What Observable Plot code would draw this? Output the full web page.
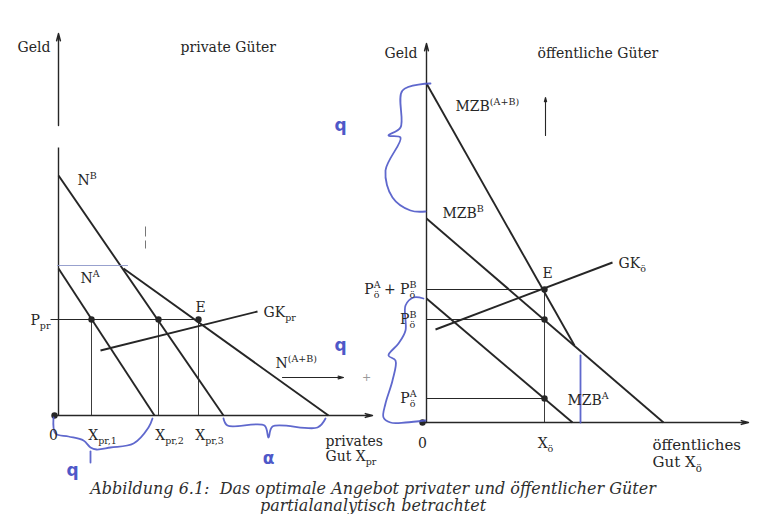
<!DOCTYPE html>
<html><head><meta charset="utf-8">
<script src="https://cdn.jsdelivr.net/npm/d3@7"></script>
<script src="https://cdn.jsdelivr.net/npm/@observablehq/plot@0.6"></script>
<style>
html,body{margin:0;padding:0;background:#fff;}
#fig{position:relative;width:766px;height:480px;}
#fig svg{position:absolute;left:0;top:0;overflow:visible;}
#caption{width:766px;box-sizing:border-box;padding-right:20px;font-family:"DejaVu Serif";font-style:italic;font-size:16px;line-height:17px;color:#2e2e2e;text-align:center;white-space:pre;}
</style></head><body>
<div id="fig"></div>
<div id="caption"></div>
<script>
// ---------- private goods (left panel) ----------
const demandPr = [
  {curve: "N^A",     x1: 0,   y1: 14.7, x2: 9.6,  y2: 0},
  {curve: "N^B",     x1: 0,   y1: 24.0, x2: 16.5, y2: 0},
  {curve: "N^(A+B)", x1: 6.5, y1: 14.7, x2: 27.0, y2: 0}
];
const supplyPr = [{curve: "GK_pr", x1: 4.2, y1: 6.5, x2: 19.9, y2: 10.4}];
const pricePr = 9.6;
const quantPr = [3.3, 10.0, 14.0];
const quantPrLabels = ["X_{pr,1}", "X_{pr,2}", "X_{pr,3}"];
const labelsPr = [
  {t: "Geld", x: -0.8, y: 36.8, a: "end"},
  {t: "private Güter", x: 12.2, y: 36.8, a: "start"},
  {t: "N^{B}", x: 1.9, y: 23.5, a: "start"},
  {t: "N^{A}", x: 2.2, y: 13.7, a: "start"},
  {t: "P_{pr}", x: -0.8, y: 9.5, a: "end"},
  {t: "GK_{pr}", x: 20.5, y: 10.3, a: "start"},
  {t: "N^{(A+B)}", x: 21.7, y: 5.2, a: "start"},
  {t: "0", x: -0.5, y: -2.0, a: "middle"},
  {t: "privates", x: 26.7, y: -2.6, a: "start"},
  {t: "Gut X_{pr}", x: 26.7, y: -4.1, a: "start"}
];
const shiftArrowPr = [{x1: 22.4, y1: 3.8, x2: 28.5, y2: 3.8}];
const printSpecks = [{x1: 8.7, y1: 18.9, x2: 8.7, y2: 17.9}, {x1: 8.7, y1: 17.5, x2: 8.7, y2: 16.7}];

// ---------- public goods (right panel) ----------
const mzb = [
  {curve: "MZB^A",     x1: 0, y1: 12.4, x2: 14.6, y2: 0},
  {curve: "MZB^B",     x1: 0, y1: 20.4, x2: 23.7, y2: 0},
  {curve: "MZB^(A+B)", x1: 0, y1: 33.9, x2: 14.8, y2: 7.7}
];
const supplyOe = [{curve: "GK_ö", x1: 0.9, y1: 9.3, x2: 18.6, y2: 16.0}];
const quantOe = 11.8;
const pricesOe = [
  {t: "P^{A}_{ö}", p: 2.4},
  {t: "P^{B}_{ö}", p: 10.3},
  {t: "P^{A}_{ö} + P^{B}_{ö}", p: 13.3}
];
const labelsOe = [
  {t: "Geld", x: -0.9, y: 36.9, a: "end"},
  {t: "öffentliche Güter", x: 11.1, y: 36.9, a: "start"},
  {t: "MZB^{(A+B)}", x: 2.9, y: 31.6, a: "start"},
  {t: "MZB^{B}", x: 1.6, y: 20.9, a: "start"},
  {t: "GK_{ö}", x: 19.2, y: 15.9, a: "start"},
  {t: "MZB^{A}", x: 14.1, y: 2.2, a: "start"},
  {t: "0", x: -0.4, y: -2.1, a: "middle"},
  {t: "X_{ö}", x: 11.9, y: -2.1, a: "middle"}
];
const axisTitleOe = [
  {t: "öffentliches", x: 22.6, y: -2.3},
  {t: "Gut X_{ö}", x: 22.6, y: -4.0}
];
const shiftArrowOe = [{x1: 11.9, y1: 28.7, x2: 11.9, y2: 32.5}];

// ---------- handwritten pen marks (blue) ----------
const penPr = [
  [[-0.5,-0.2],[-0.3,-1.8],[1.0,-2.1],[2.5,-2.5],[3.2,-3.2],[3.8,-3.4],[5.2,-3.2],[7.5,-2.8],[9.0,-1.2],[9.4,-0.3]],
  [[3.2,-3.6],[3.2,-4.7]],
  [[16.5,-0.3],[16.9,-1.0],[20.6,-1.0],[21.0,-2.2],[21.4,-1.1],[25.9,-1.2],[26.7,-0.3]]
];
const penPrFaint = [[[-0.1,15.0],[6.9,15.0]]];
const penPrLetters = [
  {t: "q", x: 1.4, y: -5.5}, {t: "α", x: 21.0, y: -4.3},
  {t: "q", x: 28.2, y: 29.0}, {t: "q", x: 28.2, y: 7.0}
];
const penOe = [
  [[0.4,33.9],[-2.4,33.2],[-2.6,29.5],[-3.8,28.7],[-2.6,28.5],[-4.1,25.2],[-3.4,22.5],[-1.6,21.2],[-0.1,21.1]],
  [[-0.3,12.4],[-1.3,12.5],[-2.1,11.7],[-2.1,9.2],[-2.8,7.9],[-3.8,6.7],[-3.1,6.2],[-3.4,4.2],[-4.1,1.9],[-4.3,0.5],[-3.6,0],[-2.1,0],[-0.1,0.2]],
  [[15.4,0],[15.4,6.7]]
];

// ---------- drawing ----------
const W = 766, H = 480;
const INK = "#262626", BLUE = "#4e58c8";
function panel(xdom, ydom, marks) {
  return Plot.plot({
    width: W, height: H, margin: 0,
    x: {domain: xdom, axis: null}, y: {domain: ydom, axis: null},
    style: {background: "transparent", overflow: "visible", fontFamily: "DejaVu Serif", fontSize: "14px", color: INK},
    marks
  });
}
const seg = {x1: "x1", y1: "y1", x2: "x2", y2: "y2"};
function labelMarks(labels, size) {
  return ["start", "middle", "end"].map(a =>
    Plot.text(labels.filter(d => d.a === a), {x: "x", y: "y", text: "t", textAnchor: a, fill: INK, fontSize: size}));
}
function penMarks(strokes, color, width) {
  return strokes.map(s => Plot.line(s, {x: d => d[0], y: d => d[1], curve: "catmull-rom", stroke: color, strokeWidth: width, strokeOpacity: 0.9}));
}

const left = panel([-5.8, 70.8], [-6.5, 41.5], [
  // axes (the vertical axis has a small break in the print)
  Plot.link([{x1: 0, y1: 0, x2: 0, y2: 26.8}], {...seg, stroke: INK, strokeWidth: 1.4}),
  Plot.arrow([{x1: 0, y1: 29.0, x2: 0, y2: 38.2}, {x1: -0.4, y1: 0, x2: 31.4, y2: 0}],
    {...seg, stroke: INK, strokeWidth: 1.4, headLength: 8, headAngle: 30}),
  Plot.link(printSpecks, {...seg, stroke: "#777", strokeWidth: 1}),
  // guides
  Plot.link([{x: -0.8}], {x1: "x", x2: quantPr[quantPr.length - 1], y1: pricePr, y2: pricePr, stroke: INK, strokeWidth: 1}),
  Plot.link(quantPr, {x1: d => d, x2: d => d, y1: 0, y2: pricePr, stroke: INK, strokeWidth: 0.9}),
  // curves
  Plot.link(demandPr, {...seg, stroke: INK, strokeWidth: 1.9}),
  Plot.link(supplyPr, {...seg, stroke: INK, strokeWidth: 1.9}),
  Plot.arrow(shiftArrowPr, {...seg, stroke: INK, strokeWidth: 1.2, headLength: 7, headAngle: 30}),
  Plot.text([shiftArrowPr[0].x2], {x: d => d, y: shiftArrowPr[0].y2, text: ["+"], dx: 23, fill: "#999", fontSize: 11}),
  Plot.dot(quantPr, {x: d => d, y: pricePr, r: 3.2, fill: INK}),
  Plot.dot([0], {x: -0.4, y: 0, r: 3.2, fill: INK}),
  // pen marks
  ...penMarks(penPr, BLUE, 1.8),
  ...penMarks(penPrFaint, "#8d97c9", 1.1),
  Plot.text(penPrLetters, {x: "x", y: "y", text: "t", fill: BLUE, fontSize: 17, fontWeight: "bold", fontFamily: "DejaVu Sans"}),
  // labels
  ...labelMarks(labelsPr, 14),
  Plot.text(quantPr, {x: d => d, y: -2.0, text: (d, i) => quantPrLabels[i], dx: 11, fill: INK, fontSize: 14}),
  Plot.text([quantPr[quantPr.length - 1]], {x: d => d, y: pricePr, text: ["E"], dx: 2, dy: -12, fill: INK, fontSize: 14})
]);

const right = panel([-42.6, 34.0], [-5.8, 42.2], [
  Plot.arrow([{x1: 0, y1: 0, x2: 0, y2: 37.9}, {x1: -0.4, y1: 0, x2: 32.2, y2: 0}],
    {...seg, stroke: INK, strokeWidth: 1.4, headLength: 8, headAngle: 30}),
  Plot.link(pricesOe, {x1: 0, x2: quantOe, y1: "p", y2: "p", stroke: INK, strokeWidth: 1}),
  Plot.link([quantOe], {x1: d => d, x2: d => d, y1: 0, y2: d3.max(pricesOe, d => d.p), stroke: INK, strokeWidth: 0.9}),
  Plot.link(mzb, {...seg, stroke: INK, strokeWidth: 1.9}),
  Plot.link(supplyOe, {...seg, stroke: INK, strokeWidth: 1.9}),
  Plot.arrow(shiftArrowOe, {...seg, stroke: INK, strokeWidth: 1.1, headLength: 6, headAngle: 30}),
  Plot.dot(pricesOe, {x: quantOe, y: "p", r: 3.2, fill: INK}),
  Plot.dot([0], {x: -0.4, y: 0, r: 3.2, fill: INK}),
  ...penMarks(penOe, BLUE, 1.8),
  ...labelMarks(labelsOe, 14),
  Plot.text(axisTitleOe, {x: "x", y: "y", text: "t", textAnchor: "start", fill: INK, fontSize: 15}),
  Plot.text(pricesOe, {x: -1.0, y: "p", text: "t", textAnchor: "end", fill: INK, fontSize: 14}),
  Plot.text([quantOe], {x: d => d, y: d3.max(pricesOe, d => d.p), text: ["E"], dx: 3, dy: -16, fill: INK, fontSize: 14})
]);

const fig = document.getElementById("fig");
fig.appendChild(left);
fig.appendChild(right);
document.getElementById("caption").textContent =
  "Abbildung 6.1:  Das optimale Angebot privater und öffentlicher Güter\npartialanalytisch betrachtet";

// turn ^{..} and _{..} into real superscript / subscript tspans
function richText(svg) {
  const ns = "http://www.w3.org/2000/svg";
  svg.querySelectorAll("text").forEach(el => {
    const s = el.textContent;
    if (!/[\^_]\{/.test(s)) return;
    const fs = parseFloat(getComputedStyle(el).fontSize) || 14;
    const small = fs * 0.68;
    el.textContent = "";
    let cur = 0;
    const add = (txt, size, off, dx) => {
      const t = document.createElementNS(ns, "tspan");
      t.textContent = txt;
      if (size) t.setAttribute("font-size", size);
      const dy = off - cur;
      if (dy) t.setAttribute("dy", dy);
      if (dx) t.setAttribute("dx", dx);
      cur = off;
      el.appendChild(t);
      return t;
    };
    const re = /\^\{([^}]*)\}_\{([^}]*)\}|\^\{([^}]*)\}|_\{([^}]*)\}|([^\^_]+)/g;
    let m;
    while ((m = re.exec(s))) {
      if (m[1] !== undefined) {
        const a = add(m[1], small, -fs * 0.4);
        const w = a.getComputedTextLength();
        add(m[2], small, fs * 0.32, -w);
      } else if (m[3] !== undefined) add(m[3], small, -fs * 0.4);
      else if (m[4] !== undefined) add(m[4], small, fs * 0.32);
      else add(m[5], null, 0);
    }
  });
}
richText(left);
richText(right);
</script>
</body></html>
